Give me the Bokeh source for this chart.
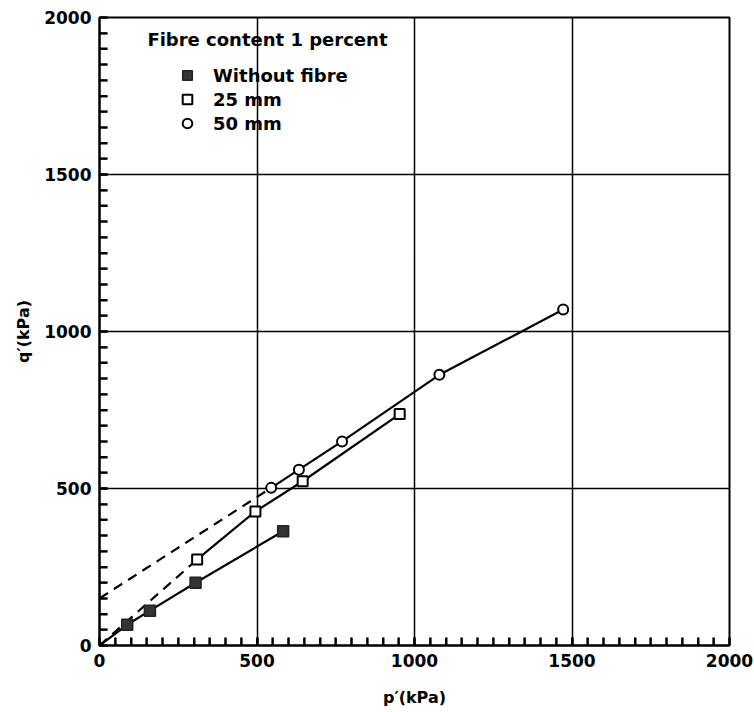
from bokeh.plotting import figure
from bokeh.models import Range1d, SingleIntervalTicker, Legend, LegendItem, Label
from bokeh.embed import file_html
from bokeh.resources import INLINE

# ---- data ----
without_p = [88, 160, 305, 583]
without_q = [66, 111, 200, 364]

mm25_p = [310, 495, 645, 953]
mm25_q = [274, 427, 523, 737]

mm50_p = [545, 633, 770, 1079, 1472]
mm50_q = [502, 560, 650, 862, 1070]

# dashed extrapolations back to the q' axis
ext25_p = [0, 310]
ext25_q = [0, 274]
ext50_p = [0, 545]
ext50_q = [150, 502]

origin_p = [0]
origin_q = [0]

title_text = "Fibre content 1 percent"
labels = ["Without fibre", "25 mm", "50 mm"]

# axis style: minor tick positions every 50 kPa
tick_vals = list(range(50, 2000, 50))
TICK_LEN = 25  # kPa units, about 8 px inward

FONT = "DejaVu Sans"

p = figure(width=754, height=712, output_backend="svg", toolbar_location=None,
           x_range=Range1d(0, 2000), y_range=Range1d(0, 2000),
           min_border_left=99, min_border_right=25, min_border_top=17, min_border_bottom=67)

p.outline_line_color = "black"
p.outline_line_width = 2

for ax, lab in ((p.xaxis[0], "p′(kPa)"), (p.yaxis[0], "q′(kPa)")):
    ax.ticker = SingleIntervalTicker(interval=500, num_minor_ticks=10)
    ax.axis_line_width = 2
    ax.axis_line_color = "black"
    ax.major_tick_in = 8
    ax.major_tick_out = 0
    ax.minor_tick_in = 8
    ax.minor_tick_out = 0
    ax.major_tick_line_width = 2
    ax.minor_tick_line_width = 2
    ax.major_tick_line_color = "black"
    ax.minor_tick_line_color = "black"
    ax.major_label_text_font = FONT
    ax.major_label_text_font_size = "17px"
    ax.major_label_text_font_style = "bold"
    ax.major_label_text_color = "black"
    ax.major_label_standoff = 8
    ax.axis_label = lab
    ax.axis_label_text_font = FONT
    ax.axis_label_text_font_size = "16px"
    ax.axis_label_text_font_style = "bold"
    ax.axis_label_text_color = "black"

p.yaxis[0].axis_label_standoff = 8
p.xaxis[0].axis_label_standoff = 18

for g in (p.xgrid[0], p.ygrid[0]):
    g.ticker = SingleIntervalTicker(interval=500)
    g.grid_line_color = "black"
    g.grid_line_width = 1.5
    g.grid_line_alpha = 1.0

# inward minor ticks along the left and bottom axes
zeros = [0] * len(tick_vals)
lens = [TICK_LEN] * len(tick_vals)
p.segment(x0=tick_vals, y0=zeros, x1=tick_vals, y1=lens, line_color="black", line_width=2)
p.segment(x0=zeros, y0=tick_vals, x1=lens, y1=tick_vals, line_color="black", line_width=2)

# lines
p.line(ext25_p, ext25_q, line_color="black", line_width=2.2, line_dash="10 7")
p.line(ext50_p, ext50_q, line_color="black", line_width=2.2, line_dash="10 7")
p.line(origin_p + without_p, origin_q + without_q, line_color="black", line_width=2.2)
p.line(mm25_p, mm25_q, line_color="black", line_width=2.2)
p.line(mm50_p, mm50_q, line_color="black", line_width=2.2)

# markers
r0 = p.scatter(without_p, without_q, marker="square", size=11,
               fill_color="#333333", line_color="#222222", line_width=1.5)
r1 = p.scatter(mm25_p, mm25_q, marker="square", size=10,
               fill_color="white", line_color="black", line_width=2)
r2 = p.scatter(mm50_p, mm50_q, marker="circle", size=10,
               fill_color="white", line_color="black", line_width=2)

legend = Legend(items=[LegendItem(label=labels[0], renderers=[r0]),
                       LegendItem(label=labels[1], renderers=[r1]),
                       LegendItem(label=labels[2], renderers=[r2])],
                location=(76, 510), padding=0, margin=0, spacing=0,
                glyph_width=24, glyph_height=24, label_standoff=14,
                label_text_font=FONT, label_text_font_size="18px",
                label_text_font_style="bold", label_text_color="black",
                border_line_color=None, background_fill_alpha=0)
p.add_layout(legend, "center")

p.add_layout(Label(x=152, y=1930, text=title_text, text_font=FONT, text_font_size="18px",
                   text_font_style="bold", text_color="black", text_baseline="middle",
                   text_align="left"))

open("out.html", "w").write(file_html(p, INLINE))
